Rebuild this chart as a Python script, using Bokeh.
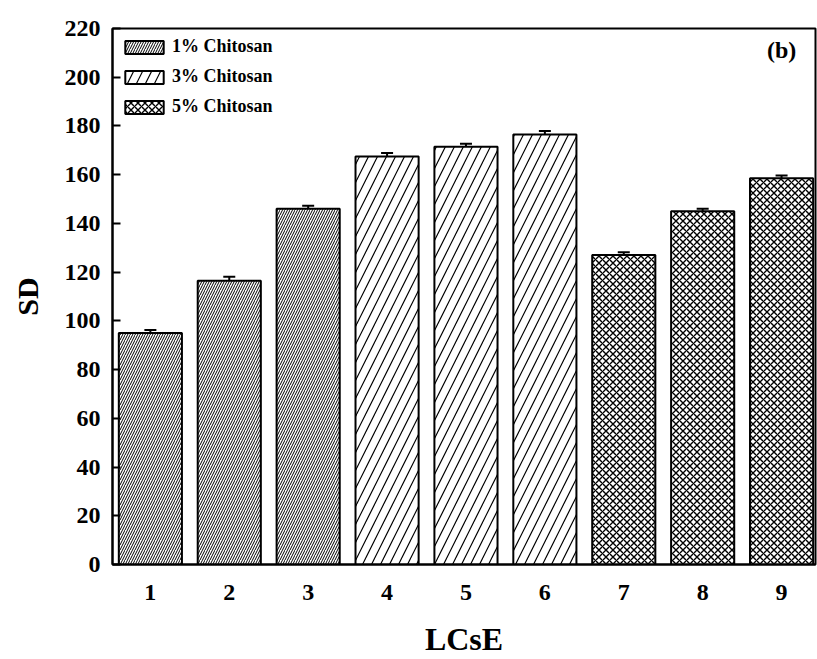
from bokeh.plotting import figure
from bokeh.models import ColumnDataSource, Whisker, FixedTicker, Label, Legend, LegendItem, TeeHead, Range1d
from bokeh.embed import file_html
from bokeh.resources import INLINE

samples = [1, 2, 3, 4, 5, 6, 7, 8, 9]
sd_values = [95, 116.5, 146, 167.5, 171.5, 176.5, 127, 145, 158.5]
sd_errors = [1.3, 1.6, 1.2, 1.4, 1.2, 1.4, 1.2, 1.0, 1.2]
groups = ["1% Chitosan", "3% Chitosan", "5% Chitosan"]
group_of = [0, 0, 0, 1, 1, 1, 2, 2, 2]
y_ticks = [0, 20, 40, 60, 80, 100, 120, 140, 160, 180, 200, 220]

hatches = [
    dict(hatch_pattern="right_diagonal_line", hatch_scale=5, hatch_weight=1.0),
    dict(hatch_pattern="right_diagonal_line", hatch_scale=18, hatch_weight=1.2),
    dict(hatch_pattern="diagonal_cross", hatch_scale=7, hatch_weight=1.4),
]

FONT = "Liberation Serif"

p = figure(width=817, height=659, output_backend="svg", toolbar_location=None,
           x_range=Range1d(0.52, 9.43), y_range=Range1d(0, 220),
           min_border_left=112, min_border_right=2, min_border_top=28, min_border_bottom=94)
p.grid.visible = False
p.outline_line_color = "black"
p.outline_line_width = 2

items = []
for g, name in enumerate(groups):
    xs = [s for s, gg in zip(samples, group_of) if gg == g]
    ys = [v for v, gg in zip(sd_values, group_of) if gg == g]
    es = [e for e, gg in zip(sd_errors, group_of) if gg == g]
    src = ColumnDataSource(dict(x=xs, top=ys,
                                upper=[y + e for y, e in zip(ys, es)],
                                lower=[y - e for y, e in zip(ys, es)]))
    r = p.vbar(x="x", top="top", width=0.8, source=src, fill_color="white",
               line_color="black", line_width=2, hatch_color="black", **hatches[g])
    items.append(LegendItem(label=name, renderers=[r]))
    w = Whisker(base="x", upper="upper", lower="lower", source=src, line_color="black",
                line_width=2,
                upper_head=TeeHead(size=12, line_width=2, line_color="black"),
                lower_head=TeeHead(size=12, line_width=2, line_color="black"))
    p.add_layout(w)

legend = Legend(items=items, location="top_left", border_line_color=None,
                background_fill_alpha=0, label_text_font=FONT, label_text_font_style="bold",
                label_text_font_size="18px", label_text_color="black",
                glyph_width=48, glyph_height=16,
                spacing=9, padding=0, margin=8, label_standoff=4)
p.add_layout(legend)

p.add_layout(Label(x=9.0, y=211, text="(b)", text_font=FONT, text_font_style="bold",
                   text_font_size="24px", text_align="center", text_baseline="middle",
                   text_color="black"))

p.yaxis.ticker = FixedTicker(ticks=y_ticks)
p.xaxis.ticker = FixedTicker(ticks=samples)
for ax in (p.xaxis[0], p.yaxis[0]):
    ax.axis_line_width = 2
    ax.axis_line_color = "black"
    ax.major_label_text_font = FONT
    ax.major_label_text_font_style = "bold"
    ax.major_label_text_font_size = "24px"
    ax.major_label_text_color = "black"
    ax.axis_label_text_font = FONT
    ax.axis_label_text_font_style = "bold"
    ax.axis_label_text_color = "black"
    ax.minor_tick_line_color = None
p.yaxis.major_tick_in = 8
p.yaxis.major_tick_out = 0
p.yaxis.major_tick_line_width = 2
p.yaxis.major_tick_line_color = "black"
p.yaxis.major_label_standoff = 12
p.xaxis.major_tick_line_color = None
p.xaxis.major_label_standoff = 14
p.xaxis.axis_label = "LCsE"
p.yaxis.axis_label = "SD"
p.xaxis.axis_label_text_font_size = "32px"
p.yaxis.axis_label_text_font_size = "30px"
p.xaxis.axis_label_standoff = 18
p.yaxis.axis_label_standoff = 18

open("out.html", "w").write(file_html(p, INLINE))
